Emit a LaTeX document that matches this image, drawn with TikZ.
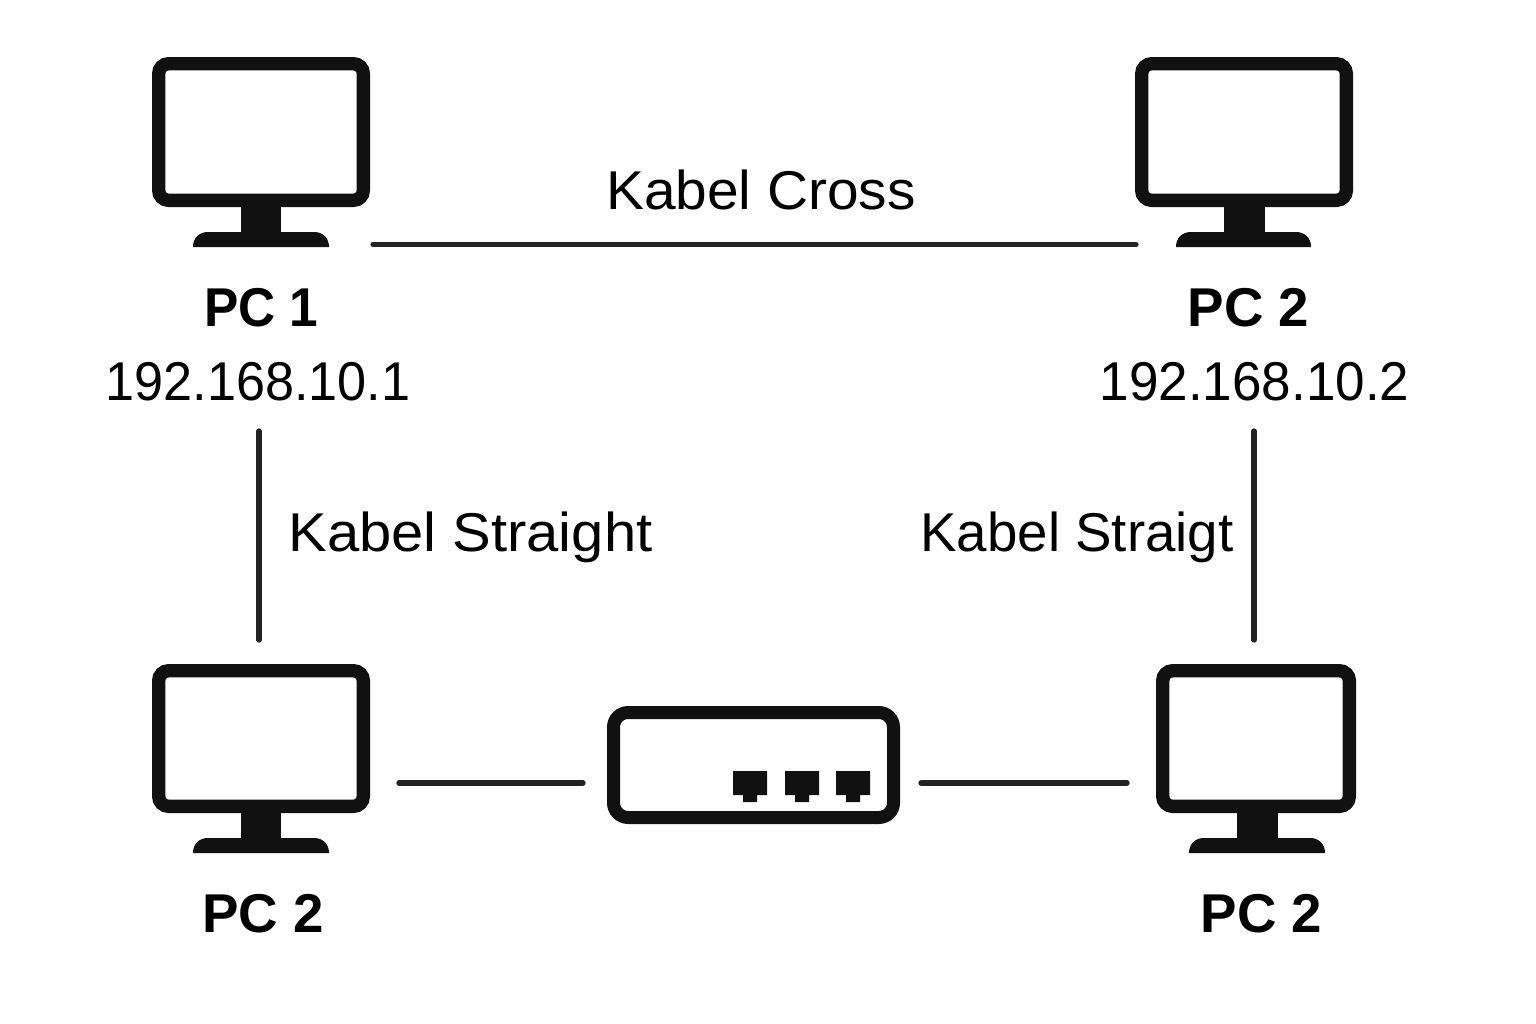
\documentclass[tikz,border=0pt]{standalone}
\usepackage{graphicx}
\usepackage{fontspec}
\setmainfont{Liberation Sans}
\definecolor{ink}{HTML}{111111}
\definecolor{wire}{HTML}{222222}
\tikzset{
  x=0.75pt,y=-0.75pt,
  monitorbox/.style={draw=ink,line width=10pt,fill=white,rounded corners=7.5pt,inner sep=0pt,outer sep=0pt,anchor=north west},
  switchbox/.style={draw=ink,line width=9.75pt,fill=white,rounded corners=11pt,inner sep=0pt,outer sep=0pt,anchor=north west},
  wirestyle/.style={draw=wire,line width=4pt,line cap=round},
  lbl/.style={anchor=base,font=\fontsize{41}{41}\selectfont,text=black,inner sep=0pt},
  pclbl/.style={anchor=base,font=\fontsize{41}{41}\selectfont\bfseries,text=black,inner sep=0pt},
}
\newcommand{\hs}[2]{\scalebox{#1}[1]{#2}}
\newcommand{\rjport}[1]{%
  \fill[ink] (#1,771) -- ++(34,0) -- ++(0,24) -- ++(-10,0) -- ++(0,7) -- ++(-14,0) -- ++(0,-7) -- ++(-10,0) -- cycle;
}
\begin{document}
\begin{tikzpicture}
\useasboundingbox (0,0) rectangle (1536,1024);
\fill[white] (0,0) rectangle (1536,1024);
% monitors
\node[monitorbox,minimum width=153.5pt,minimum height=102.5pt] (mon1) at (158.7,63.7) {};
\node[monitorbox,minimum width=153.5pt,minimum height=102.5pt] (mon2) at (1141.7,63.7) {};
\node[monitorbox,minimum width=153.5pt,minimum height=101.75pt] (mon3) at (158.7,670.7) {};
\node[monitorbox,minimum width=140pt,minimum height=101.75pt] (mon4) at (1162.7,670.7) {};
% stands
\fill[ink] (241,207) rectangle (281,232);
\fill[ink] (193,247) .. controls (193,238) and (199,232) .. (208,232) -- (314,232) .. controls (323,232) and (329,238) .. (329,247) -- cycle;
\fill[ink] (1224,207) rectangle (1265,232);
\fill[ink] (1176,247) .. controls (1176,238) and (1182,232) .. (1191,232) -- (1296,232) .. controls (1305,232) and (1311,238) .. (1311,247) -- cycle;
\fill[ink] (241,813) rectangle (281,838);
\fill[ink] (193,853) .. controls (193,844) and (199,838) .. (208,838) -- (314,838) .. controls (323,838) and (329,844) .. (329,853) -- cycle;
\fill[ink] (1237,813) rectangle (1278,838);
\fill[ink] (1189,853) .. controls (1189,844) and (1195,838) .. (1204,838) -- (1310,838) .. controls (1319,838) and (1325,844) .. (1325,853) -- cycle;
% switch
\node[switchbox,minimum width=210pt,minimum height=78.75pt] (sw) at (613.5,712.5) {};
\rjport{733}\rjport{785}\rjport{836}
% cable ends
\coordinate (crossA) at (373,244.5);
\coordinate (crossB) at (1136,244.5);
\coordinate (strA) at (259,431);
\coordinate (strB) at (259,640);
\coordinate (strC) at (1254,431);
\coordinate (strD) at (1254,640);
\coordinate (swA) at (399,783);
\coordinate (swB) at (583,783);
\coordinate (swC) at (921,783);
\coordinate (swD) at (1127,783);
\draw[wirestyle] (crossA) -- (crossB);
\draw[wirestyle] (strA) -- (strB);
\draw[wirestyle] (strC) -- (strD);
\draw[wirestyle] (swA) -- (swB);
\draw[wirestyle] (swC) -- (swD);
% labels
\node[lbl] (tcross) at (761,209) {\hs{1.04}{Kabel Cross}};
\node[pclbl] (tpc1) at (261.5,326) {\hs{0.94}{PC 1}};
\node[lbl] (tip1) at (258,400) {\hs{0.955}{192.168.10.1}};
\node[pclbl] (tpc2) at (1248.5,326) {PC 2};
\node[lbl] (tip2) at (1254.5,400) {\hs{0.97}{192.168.10.2}};
\node[lbl] (tstr1) at (470.5,551) {\hs{1.06}{Kabel Straight}};
\node[lbl] (tstr2) at (1077,551) {Kabel Straigt};
\node[pclbl] (tpc3) at (263,932) {PC 2};
\node[pclbl] (tpc4) at (1261.5,932) {PC 2};
\end{tikzpicture}
\end{document}
